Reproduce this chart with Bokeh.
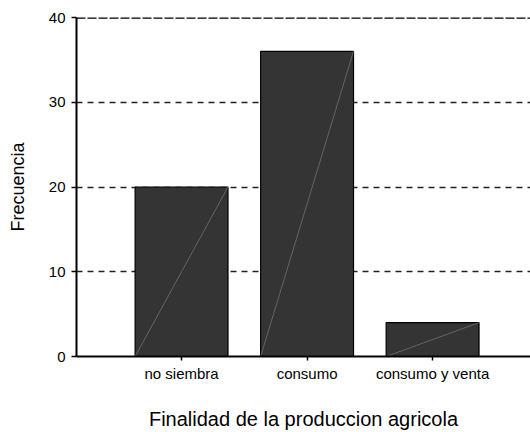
from bokeh.plotting import figure
from bokeh.models import Range1d, FixedTicker, Span
from bokeh.embed import file_html
from bokeh.resources import INLINE

# ---- data ----
categories = ["no siembra", "consumo", "consumo y venta"]
frecuencia = [20, 36, 4]
y_ticks = [0, 10, 20, 30, 40]
x_title = "Finalidad de la produccion agricola"
y_title = "Frecuencia"

xs = list(range(len(categories)))
bar_w = 0.74
FONT = "Liberation Sans"

p = figure(width=530, height=432, output_backend="svg", toolbar_location=None,
           x_range=Range1d(-0.837, 2.78), y_range=Range1d(min(y_ticks), max(y_ticks)),
           min_border_left=76, min_border_right=0, min_border_top=17, min_border_bottom=76)
p.outline_line_color = None
p.background_fill_color = "white"
p.border_fill_color = "white"

# grid
p.xgrid.visible = False
p.ygrid.ticker = FixedTicker(ticks=y_ticks)
p.ygrid.grid_line_color = "#222222"
p.ygrid.grid_line_dash = "6 5"
p.ygrid.grid_line_width = 1.3

top_line = Span(location=max(y_ticks), dimension="width", line_color="black",
                line_width=2.4, line_dash="9 2")
p.add_layout(top_line)

# bars
p.vbar(x=xs, top=frecuencia, bottom=0, width=bar_w,
       fill_color="#343434", line_color="black", line_width=1.2)
# diagonal line inside each bar
p.segment(x0=[v - bar_w / 2 for v in xs], y0=[0] * len(xs),
          x1=[v + bar_w / 2 for v in xs], y1=frecuencia,
          line_color="#7a7a7a", line_width=0.7)

# y axis
ya = p.yaxis[0]
ya.ticker = FixedTicker(ticks=y_ticks)
ya.minor_tick_line_color = None
ya.major_tick_in = 0
ya.major_tick_out = 5
ya.major_tick_line_width = 1.5
ya.major_tick_line_color = "black"
ya.axis_line_width = 2
ya.axis_line_color = "black"
ya.major_label_standoff = 6
ya.major_label_text_font = FONT
ya.major_label_text_font_size = "15px"
ya.major_label_text_color = "black"
ya.axis_label = y_title
ya.axis_label_text_font = FONT
ya.axis_label_text_font_size = "18px"
ya.axis_label_text_font_style = "normal"
ya.axis_label_text_color = "black"
ya.axis_label_standoff = 18

# x axis
xa = p.xaxis[0]
xa.ticker = FixedTicker(ticks=xs)
xa.major_label_overrides = {i: c for i, c in zip(xs, categories)}
xa.minor_tick_line_color = None
xa.major_tick_in = 0
xa.major_tick_out = 4
xa.major_tick_line_width = 1.5
xa.major_tick_line_color = "black"
xa.axis_line_width = 2
xa.axis_line_color = "black"
xa.major_label_standoff = 4
xa.major_label_text_font = FONT
xa.major_label_text_font_size = "15px"
xa.major_label_text_color = "black"
xa.axis_label = x_title
xa.axis_label_text_font = FONT
xa.axis_label_text_font_size = "20px"
xa.axis_label_text_font_style = "normal"
xa.axis_label_text_color = "black"
xa.axis_label_standoff = 23

open("out.html", "w").write(file_html(p, INLINE))
